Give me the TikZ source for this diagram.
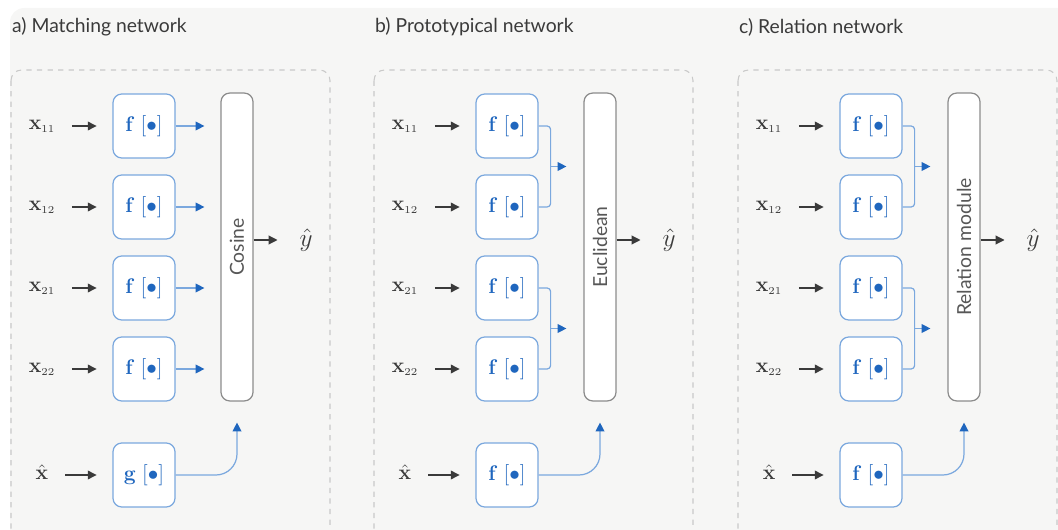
\documentclass[tikz,border=0pt]{standalone}
\usepackage[no-math]{fontspec}
\setmainfont{Lato}
\usetikzlibrary{arrows.meta,positioning}
\definecolor{paper}{HTML}{F6F6F5}
\definecolor{frameln}{HTML}{C9C9C9}
\definecolor{netblue}{HTML}{1F66BE}
\definecolor{boxblue}{HTML}{7BA8DE}
\definecolor{ink}{HTML}{3A3A3A}
\definecolor{modgray}{HTML}{8C8C8C}
\tikzset{
  fbox/.style={draw=boxblue, fill=white, rounded corners=5pt, line width=0.7pt,
               minimum width=1.24cm, minimum height=1.28cm, font=\large, text=netblue},
  modbox/.style={draw=modgray, fill=white, rounded corners=5pt, line width=0.7pt,
                 minimum width=0.64cm, minimum height=6.16cm},
  inp/.style={font=\large, text=ink},
  modlbl/.style={rotate=90, font=\fontsize{11}{13}\selectfont, text=ink!85},
  ar/.style={-{Triangle[length=5pt,width=5pt]}, line width=0.6pt, draw=ink,
             shorten <=6pt, shorten >=9pt},
  arblue/.style={-{Triangle[length=5pt,width=5pt,color=netblue]}, line width=0.7pt, draw=boxblue},
  lnblue/.style={line width=0.7pt, draw=boxblue, rounded corners=2pt},
  panel/.style={draw=frameln, dashed, rounded corners=6pt, line width=0.6pt},
  ttl/.style={anchor=west, font=\fontsize{11}{13}\selectfont, text=ink}
}
\newcommand{\emb}[1]{$\mathbf{#1}\;[\bullet]$}

\begin{document}
\begin{tikzpicture}[x=0.02cm,y=-0.02cm]

  \clip (0,0) rectangle (1058,530);
  \fill[paper, rounded corners=8pt] (10,8) rectangle (1090,560);

  % the three panels
  \foreach \p/\ox/\ttl/\modname/\fn in {a/0/{a) Matching network}/Cosine/g,
      b/363/{b) Prototypical network}/Euclidean/f,
      c/727/{c) Relation network}/{Relation module}/f} {
    \node[ttl] (t-\p) at (\ox+6,27) {\ttl};
    \draw[panel] (\ox+11,70) rectangle (\ox+330,580);
    \foreach \i/\y/\s in {1/126/11, 2/207/12, 3/288/21, 4/369/22} {
      \node[inp] (x-\p-\i) at (\ox+42,\y) {$\mathbf{x}_{\scriptscriptstyle\s}$};
      \node[fbox] (f-\p-\i) at (\ox+144,\y) {\emb{f}};
      \draw[ar] (x-\p-\i.east |- f-\p-\i) -- (f-\p-\i);
    }
    \node[modbox] (m-\p) at (\ox+237,247) {};
    \node[modlbl] at (m-\p) {\modname};
    \node[inp, font=\Large] (y-\p) at (\ox+306,240) {$\hat{y}$};
    \draw[ar, shorten <=0pt] (m-\p.east |- y-\p) -- (y-\p);
    % query
    \node[inp] (q-\p) at (\ox+42,472) {$\hat{\mathbf{x}}$};
    \node[fbox] (g-\p) at (\ox+144,475) {\emb{\fn}};
    \draw[ar] (q-\p.east |- g-\p) -- (g-\p);
    \draw[arblue, rounded corners=12pt, shorten >=0.42cm] (g-\p.east) -| (m-\p.south);
  }

  % matching: every embedding goes in on its own
  \foreach \i in {1,...,4}
    \draw[arblue, shorten >=0.32cm] (f-a-\i.east) -- (f-a-\i.east -| m-a.west);

  % prototypical and relation: pairs are merged
  \foreach \p in {b,c} {
    \foreach \i/\j in {1/2, 3/4} {
      \draw[lnblue] (f-\p-\i.east) -- ++(12,0) |- coordinate[pos=0.25] (k-\p-\i) (f-\p-\j.east);
      \draw[arblue, shorten >=0.34cm] (k-\p-\i) -- (k-\p-\i -| m-\p.west);
    }
  }
\end{tikzpicture}
\end{document}
